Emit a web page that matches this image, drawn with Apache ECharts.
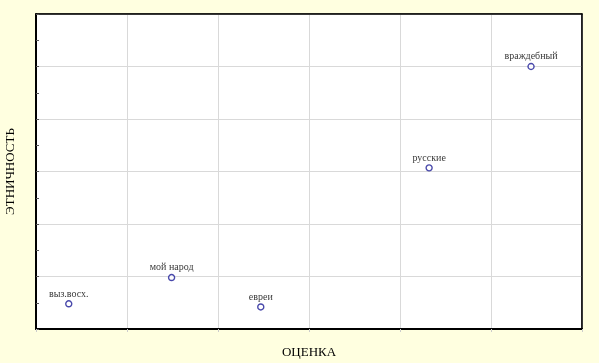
<!DOCTYPE html>
<html><head><meta charset="utf-8">
<script src="https://cdn.jsdelivr.net/npm/echarts@6/dist/echarts.min.js"></script>
<style>html,body{margin:0;padding:0;background:#FFFFE0;}#c{width:599px;height:363px;}</style>
</head><body><div id="c"></div>
<script>
var labels = ['выз.восх.', 'мой народ', 'евреи', 'русские', 'враждебный'];
var xValues = [0.36, 1.49, 2.47, 4.32, 5.44];
var yValues = [0.48, 0.98, 0.42, 3.07, 5.00];
var xTitle = 'ОЦЕНКА';
var yTitle = 'ЭТНИЧНОСТЬ';

var data = labels.map(function(l, i){ return {name: l, value: [xValues[i], yValues[i]]}; });
var chart = echarts.init(document.getElementById('c'), null, {renderer: 'canvas'});
var frameAxis = {
  type: 'value', min: 0, max: 6, interval: 1,
  axisLine: {show: true, onZero: false, lineStyle: {color: '#000', width: 1.5}},
  axisTick: {show: false}, axisLabel: {show: false}, splitLine: {show: false}
};
chart.setOption({
  backgroundColor: '#FFFFE0',
  animation: false,
  grid: {left: 36, top: 14, right: 17, bottom: 34, outerBoundsMode: 'none', containLabel: false,
    show: true, backgroundColor: '#ffffff', borderColor: '#000', borderWidth: 1},
  xAxis: [{
    type: 'value', min: 0, max: 6, interval: 1,
    name: xTitle, nameLocation: 'middle', nameGap: 17,
    nameTextStyle: {fontFamily: 'Liberation Serif', fontSize: 13, color: '#000'},
    axisLine: {show: true, onZero: false, lineStyle: {color: '#000', width: 2}},
    axisTick: {show: true, length: 3, lineStyle: {color: '#ccc'}},
    axisLabel: {show: false},
    splitLine: {show: true, lineStyle: {color: '#d9d9d9', width: 1}}
  }, Object.assign({position: 'top'}, frameAxis)],
  yAxis: [{
    type: 'value', min: 0, max: 6, interval: 1,
    name: yTitle, nameLocation: 'middle', nameGap: 19,
    nameTextStyle: {fontFamily: 'Liberation Serif', fontSize: 13, color: '#000'},
    axisLine: {show: true, onZero: false, lineStyle: {color: '#000', width: 2}},
    axisTick: {show: true, inside: true, length: 3, lineStyle: {color: '#555'}},
    minorTick: {show: true, splitNumber: 2, length: 3, lineStyle: {color: '#555'}},
    axisLabel: {show: false},
    splitLine: {show: true, lineStyle: {color: '#d9d9d9', width: 1}}
  }, Object.assign({position: 'right'}, frameAxis)],
  series: [{
    type: 'scatter',
    data: data,
    symbol: 'circle',
    symbolSize: 6,
    itemStyle: {color: '#ffffff', borderColor: '#1c1c96', borderWidth: 1.4},
    label: {show: true, position: 'top', distance: 1, formatter: '{b}',
      fontFamily: 'Liberation Serif', fontSize: 10, color: '#000'}
  }]
});
</script></body></html>
